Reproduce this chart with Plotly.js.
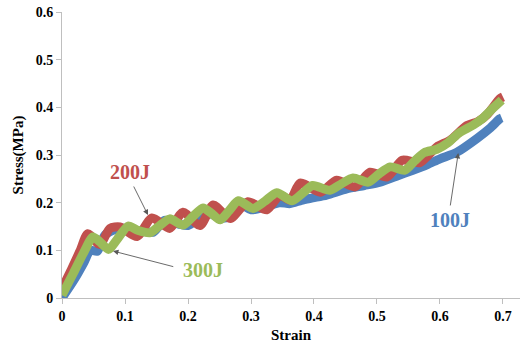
<!DOCTYPE html>
<html><head><meta charset="utf-8">
<script src="https://cdn.plot.ly/plotly-3.0.1.min.js"></script>
<style>html,body{margin:0;padding:0;background:#fff}#c{width:520px;height:349px}</style>
</head><body><div id="c"></div>
<script>
var strain300 = [0, 0.018, 0.034, 0.049, 0.06, 0.074, 0.087, 0.105, 0.12, 0.14, 0.155, 0.171, 0.192, 0.207, 0.224, 0.237, 0.251, 0.265, 0.28, 0.303, 0.322, 0.341, 0.365, 0.382, 0.398, 0.425, 0.444, 0.462, 0.486, 0.503, 0.521, 0.544, 0.56, 0.575, 0.595, 0.613, 0.63, 0.653, 0.668, 0.68, 0.698];
var stress300 = [0.006, 0.052, 0.094, 0.128, 0.118, 0.102, 0.122, 0.151, 0.142, 0.137, 0.152, 0.166, 0.153, 0.17, 0.189, 0.178, 0.164, 0.183, 0.204, 0.188, 0.203, 0.221, 0.204, 0.22, 0.236, 0.226, 0.24, 0.252, 0.243, 0.26, 0.275, 0.268, 0.288, 0.305, 0.312, 0.326, 0.346, 0.363, 0.377, 0.393, 0.415];

var strain200 = [0, 0.015, 0.029, 0.041, 0.06, 0.076, 0.092, 0.119, 0.143, 0.171, 0.192, 0.219, 0.24, 0.267, 0.295, 0.325, 0.346, 0.362, 0.378, 0.41, 0.436, 0.465, 0.489, 0.516, 0.54, 0.568, 0.595, 0.616, 0.643, 0.66, 0.675, 0.695, 0.7];
var stress200 = [0.02, 0.06, 0.1, 0.135, 0.112, 0.146, 0.149, 0.129, 0.168, 0.146, 0.18, 0.152, 0.195, 0.167, 0.202, 0.185, 0.216, 0.205, 0.241, 0.222, 0.247, 0.233, 0.264, 0.254, 0.289, 0.284, 0.317, 0.331, 0.362, 0.37, 0.385, 0.418, 0.422];

var strain100 = [0, 0.02, 0.035, 0.045, 0.056, 0.068, 0.092, 0.11, 0.13, 0.145, 0.163, 0.185, 0.2, 0.215, 0.23, 0.25, 0.265, 0.285, 0.3, 0.32, 0.345, 0.362, 0.38, 0.398, 0.42, 0.452, 0.48, 0.505, 0.53, 0.557, 0.58, 0.6, 0.627, 0.659, 0.68, 0.695, 0.698];
var stress100 = [0.0, 0.04, 0.075, 0.1, 0.098, 0.132, 0.147, 0.143, 0.14, 0.138, 0.163, 0.155, 0.152, 0.165, 0.18, 0.168, 0.17, 0.195, 0.185, 0.19, 0.2, 0.198, 0.205, 0.21, 0.216, 0.229, 0.236, 0.243, 0.255, 0.268, 0.28, 0.292, 0.306, 0.335, 0.357, 0.376, 0.378];

var seriesNames = ['100J', '200J', '300J'];
var xTicks = [0, 0.1, 0.2, 0.3, 0.4, 0.5, 0.6, 0.7];
var yTicks = [0, 0.1, 0.2, 0.3, 0.4, 0.5, 0.6];
var xTickText = ['0', '0.1', '0.2', '0.3', '0.4', '0.5', '0.6', '0.7'];
var yTickText = ['0', '0.1', '0.2', '0.3', '0.4', '0.5', '0.6'];

var colors = ['#4F81BD', '#C0504D', '#9BBB59'];
var serif = '"Liberation Serif", "Times New Roman", serif';

function tr(x, y, i) {
  return {x: x, y: y, name: seriesNames[i], mode: 'lines', type: 'scatter',
    line: {color: colors[i], width: 9, shape: 'spline', smoothing: 0.7}, hoverinfo: 'skip'};
}
var data = [tr(strain100, stress100, 0), tr(strain200, stress200, 1), tr(strain300, stress300, 2)];

function arrow(hx, hy, tx, ty) {
  return {x: hx, y: hy, ax: tx, ay: ty, xref: 'x', yref: 'y', axref: 'x', ayref: 'y',
    text: '', showarrow: true, arrowhead: 2, arrowsize: 1.2, arrowwidth: 0.9, arrowcolor: '#595959'};
}
function label(x, y, t, c) {
  return {x: x, y: y, xref: 'x', yref: 'y', text: '<b>' + t + '</b>', showarrow: false,
    font: {family: serif, size: 20, color: c}, xanchor: 'center', yanchor: 'middle'};
}
function bold(a) { return a.map(function (s) { return '<b>' + s + '</b>'; }); }

var layout = {
  width: 520, height: 349,
  margin: {l: 62, r: 0, t: 12, b: 51},
  paper_bgcolor: '#fff', plot_bgcolor: '#fff',
  showlegend: false,
  xaxis: {range: [0, 0.727], tickvals: xTicks, ticktext: bold(xTickText), showgrid: false, zeroline: false,
    showline: true, linecolor: '#BFBFBF', linewidth: 1, ticks: 'outside', ticklen: 5, tickcolor: '#BFBFBF',
    tickfont: {family: serif, size: 14, color: '#000'},
    title: {text: '<b>Strain</b>', font: {family: serif, size: 15, color: '#000'}, standoff: 6}},
  yaxis: {range: [0, 0.6], tickvals: yTicks, ticktext: bold(yTickText), showgrid: false, zeroline: false,
    showline: true, linecolor: '#BFBFBF', linewidth: 1, ticks: 'outside', ticklen: 5, tickcolor: '#BFBFBF',
    tickfont: {family: serif, size: 14, color: '#000'},
    title: {text: '<b>Stress(MPa)</b>', font: {family: serif, size: 15, color: '#000'}, standoff: 8}},
  annotations: [
    arrow(0.1365, 0.174, 0.1127, 0.237),
    arrow(0.081, 0.0985, 0.179, 0.065),
    arrow(0.629, 0.304, 0.616, 0.191),
    label(0.108, 0.264, '200J', '#C0504D'),
    label(0.224, 0.0587, '300J', '#9BBB59'),
    label(0.616, 0.1635, '100J', '#4F81BD')
  ]
};
Plotly.newPlot('c', data, layout, {staticPlot: true, displayModeBar: false});
</script></body></html>
